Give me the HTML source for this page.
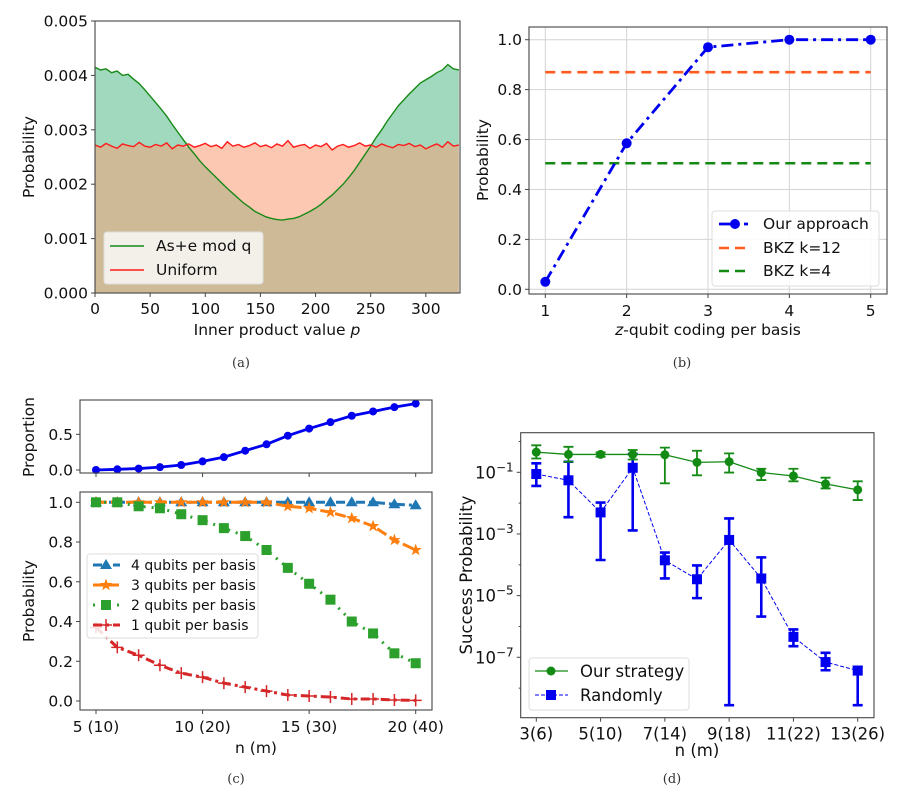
<!DOCTYPE html>
<html><head><meta charset="utf-8"><style>
html,body{margin:0;padding:0;background:#fff;}
svg{display:block;font-family:"DejaVu Sans","Liberation Sans",sans-serif;}
.cap{font-family:"DejaVu Serif","Liberation Serif",serif;font-size:13px;fill:#333;}
</style></head><body>
<svg id="fig" width="906" height="799" viewBox="0 0 906 799" xmlns="http://www.w3.org/2000/svg">
<g id="pa"></g>
<g id="pb"></g>
<g id="pc"></g>
<g id="pd"></g>
<text class="cap" x="241" y="367" text-anchor="middle">(a)</text>
<text class="cap" x="682" y="367" text-anchor="middle">(b)</text>
<text class="cap" x="236" y="783" text-anchor="middle">(c)</text>
<text class="cap" x="672" y="783" text-anchor="middle">(d)</text>
</svg>
<script>
// ---------- Panel (a) data ----------
const aStep = 5;
const aGreen = [.00415,.00410,.00412,.00405,.00408,.00400,.00402,.00393,.00385,.00374,
.00362,.00350,.00338,.00325,.00310,.00296,.00282,.00268,.00256,.00243,
.00232,.00222,.00212,.00202,.00192,.00183,.00174,.00165,.00158,.00150,
.00145,.00140,.00137,.00135,.00134,.00136,.00137,.00140,.00145,.00150,
.00156,.00163,.00172,.00180,.00190,.00200,.00212,.00225,.00240,.00255,
.00270,.00286,.00300,.00316,.00330,.00344,.00355,.00366,.00376,.00386,
.00392,.00398,.00405,.00410,.00420,.00412,.00410];
const aRed = [.00272,.00268,.00275,.00270,.00266,.00274,.00271,.00269,.00277,.00270,
.00268,.00273,.00270,.00276,.00265,.00272,.00270,.00274,.00268,.00271,
.00275,.00269,.00272,.00266,.00278,.00270,.00273,.00268,.00271,.00276,
.00269,.00272,.00267,.00274,.00270,.00280,.00268,.00271,.00273,.00266,
.00272,.00269,.00275,.00263,.00270,.00273,.00268,.00271,.00276,.00270,
.00272,.00268,.00274,.00270,.00267,.00273,.00271,.00275,.00269,.00272,
.00265,.00270,.00274,.00268,.00278,.00270,.00272];
const aXTicks = [0,50,100,150,200,250,300];
const aYTicks = ["0.000","0.001","0.002","0.003","0.004","0.005"];
// ---------- Panel (b) data ----------
const bX = [1,2,3,4,5];
const bOurs = [0.03,0.585,0.97,1.0,1.0];
const bBKZ12 = 0.87;
const bBKZ4 = 0.505;
const bYTicks = ["0.0","0.2","0.4","0.6","0.8","1.0"];
// ---------- Panel (c) data ----------
const cN = [5,6,7,8,9,10,11,12,13,14,15,16,17,18,19,20];
const cXTicks = ["5 (10)","10 (20)","15 (30)","20 (40)"];
const cXTickVals = [5,10,15,20];
const cProp = [0.0,0.01,0.02,0.04,0.07,0.12,0.18,0.27,0.36,0.48,0.58,0.67,0.76,0.82,0.88,0.93];
const cQ4 = [1,1,1,1,1,1,1,1,1,1,1,1,1,1,0.99,0.985];
const cQ3 = [1,1,1,1,1,1,1,1,1,0.98,0.97,0.95,0.92,0.88,0.81,0.76];
const cQ2 = [1,1,0.98,0.97,0.94,0.91,0.87,0.83,0.76,0.67,0.59,0.51,0.40,0.34,0.24,0.19];
const cQ1 = [0.37,0.27,0.23,0.18,0.14,0.12,0.09,0.07,0.05,0.03,0.025,0.02,0.01,0.01,0.005,0.003];
// ---------- Panel (d) data ----------
const dN = [3,4,5,6,7,8,9,10,11,12,13];
const dXTicks = ["3(6)","5(10)","7(14)","9(18)","11(22)","13(26)"];
const dXTickVals = [3,5,7,9,11,13];
const dOurs = [0.45,0.38,0.38,0.38,0.37,0.21,0.22,0.098,0.076,0.042,0.027];
const dOursLo = [0.28,0.22,0.32,0.26,0.044,0.080,0.098,0.056,0.051,0.030,0.0126];
const dOursHi = [0.75,0.67,0.44,0.53,0.63,0.50,0.41,0.13,0.13,0.067,0.051];
const dRand = [0.088,0.055,0.005,0.14,1.4e-4,3.4e-5,6.4e-4,3.6e-5,4.6e-7,7e-8,3.7e-8];
const dRandLo = [0.036,0.0035,1.43e-4,0.0013,3.6e-5,8.3e-6,2.8e-9,2.1e-6,2.3e-7,3.8e-8,2.8e-9];
const dRandHi = [0.196,0.22,0.0104,0.39,2.5e-4,9.5e-5,0.0032,1.74e-4,8e-7,1.4e-7,4.9e-8];
const dYTickExp = [-1,-3,-5,-7];

const FS=15.5;
const NS="http://www.w3.org/2000/svg";
function mk(parent,tag,attrs,text){const e=document.createElementNS(NS,tag);for(const k in attrs)e.setAttribute(k,attrs[k]);if(text!==undefined)e.textContent=text;parent.appendChild(e);return e;}
function lin(d0,d1,r0,r1){return v=>r0+(v-d0)*(r1-r0)/(d1-d0);}
function pathD(xs,ys){return xs.map((x,i)=>(i?'L':'M')+x.toFixed(2)+','+ys[i].toFixed(2)).join('');}
function frame(g,l,t,r,b,name){const e=mk(g,'rect',{x:l,y:t,width:r-l,height:b-t,fill:'none',stroke:'#444','stroke-width':1.1});}
function txt(g,x,y,s,opts,name){const e=mk(g,'text',Object.assign({x:x,y:y,'font-size':FS,fill:'#111'},opts||{}),s);return e;}

// ===== Panel A =====
(function(){
const g=document.getElementById('pa');
const L=95,R=460,T=21,B=293;
const X=lin(0,331,L,R), Y=lin(0,0.005,B,T);
const xs=aGreen.map((v,i)=>X(i*aStep));
const gy=aGreen.map(v=>Y(v)), ry=aRed.map(v=>Y(v));
const mn=aGreen.map((v,i)=>Y(Math.min(v,aRed[i]))), mx=aGreen.map((v,i)=>Y(Math.max(v,aRed[i])));
const rev=a=>a.slice().reverse();
let e=mk(g,'path',{d:pathD(xs,mn)+'L'+xs[xs.length-1]+','+B+'L'+xs[0]+','+B+'Z',fill:'#cfba98'});

e=mk(g,'path',{d:pathD(xs,mx)+pathD(rev(xs),rev(ry)).replace('M','L')+'Z',fill:'#a0d9bd'});

e=mk(g,'path',{d:pathD(xs,ry)+pathD(rev(xs),rev(mn)).replace('M','L')+'Z',fill:'#fdc8b2'});

e=mk(g,'path',{d:pathD(xs,gy),fill:'none',stroke:'#178a17','stroke-width':1.4});

e=mk(g,'path',{d:pathD(xs,ry),fill:'none',stroke:'#ff1a1a','stroke-width':1.4});

frame(g,L,T,R,B,'plot-frame-a');
aXTicks.forEach(v=>{const x=X(v);mk(g,'line',{x1:x,x2:x,y1:B,y2:B+4,stroke:'#444'});txt(g,x,B+21,String(v),{'text-anchor':'middle'},'x-tick-label');});
aYTicks.forEach(s=>{const y=Y(parseFloat(s));mk(g,'line',{x1:L-4,x2:L,y1:y,y2:y,stroke:'#444'});txt(g,L-7,y+5.5,s,{'text-anchor':'end'},'y-tick-label');});
const xl=txt(g,277,335,'Inner product value ',{'text-anchor':'middle'},'x-axis-title');mk(xl,'tspan',{'font-style':'italic'},'p');
txt(g,0,0,'Probability',{'text-anchor':'middle',transform:'translate(34,157) rotate(-90)'},'y-axis-title');
const lg=mk(g,'g',{});
mk(lg,'rect',{x:104,y:232,width:159,height:52,rx:3,fill:'#f3f0ea',stroke:'#ddd'});
mk(lg,'line',{x1:110,x2:144,y1:246,y2:246,stroke:'#178a17','stroke-width':1.5});
txt(lg,156,251,'As+e mod q',{},'legend-entry-lwe');
mk(lg,'line',{x1:110,x2:144,y1:270,y2:270,stroke:'#ff1a1a','stroke-width':1.5});
txt(lg,156,275,'Uniform',{},'legend-entry-uniform');
})();

// ===== Panel B =====
(function(){
const g=document.getElementById('pb');
const L=529,R=887,T=27,B=294;
const X=lin(1,5,545.3,870.7), Y=lin(0,1,289.3,39.7);
bX.forEach(v=>mk(g,'line',{x1:X(v),x2:X(v),y1:T,y2:B,stroke:'#d4d4d4','stroke-width':1}));
bYTicks.forEach(s=>mk(g,'line',{x1:L,x2:R,y1:Y(+s),y2:Y(+s),stroke:'#d4d4d4','stroke-width':1}));
let e=mk(g,'line',{x1:X(1),x2:X(5),y1:Y(bBKZ12),y2:Y(bBKZ12),stroke:'#ff5a1f','stroke-width':2.6,'stroke-dasharray':'10,6'});

e=mk(g,'line',{x1:X(1),x2:X(5),y1:Y(bBKZ4),y2:Y(bBKZ4),stroke:'#138a13','stroke-width':2.6,'stroke-dasharray':'10,6'});

e=mk(g,'path',{d:pathD(bX.map(X),bOurs.map(Y)),fill:'none',stroke:'#0000ee','stroke-width':2.8,'stroke-dasharray':'12,5,3,5'});

bX.forEach((v,i)=>{const c=mk(g,'circle',{cx:X(v),cy:Y(bOurs[i]),r:5,fill:'#0000ee'});});
frame(g,L,T,R,B,'plot-frame-b');
bX.forEach(v=>{const x=X(v);mk(g,'line',{x1:x,x2:x,y1:B,y2:B+4,stroke:'#444'});txt(g,x,B+22,String(v),{'text-anchor':'middle'},'x-tick-label');});
bYTicks.forEach(s=>{const y=Y(+s);mk(g,'line',{x1:L-4,x2:L,y1:y,y2:y,stroke:'#444'});txt(g,L-7,y+5.5,s,{'text-anchor':'end'},'y-tick-label');});
const xl=txt(g,708,335,'',{'text-anchor':'middle'},'x-axis-title');mk(xl,'tspan',{'font-style':'italic'},'z');mk(xl,'tspan',{},'-qubit coding per basis');
txt(g,0,0,'Probability',{'text-anchor':'middle',transform:'translate(488,160) rotate(-90)'},'y-axis-title');
const lg=mk(g,'g',{});
mk(lg,'rect',{x:712,y:211,width:167,height:75,rx:3,fill:'#fff','fill-opacity':0.85,stroke:'#ddd'});
mk(lg,'line',{x1:719,x2:748,y1:224,y2:224,stroke:'#0000ee','stroke-width':2.8,'stroke-dasharray':'12,5,3,5'});
mk(lg,'circle',{cx:735,cy:224,r:5,fill:'#0000ee'});
txt(lg,763,229,'Our approach',{},'legend-entry-ours');
mk(lg,'line',{x1:719,x2:748,y1:248,y2:248,stroke:'#ff5a1f','stroke-width':2.6,'stroke-dasharray':'10,6'});
txt(lg,763,253,'BKZ k=12',{},'legend-entry-bkz12');
mk(lg,'line',{x1:719,x2:748,y1:271,y2:271,stroke:'#138a13','stroke-width':2.6,'stroke-dasharray':'10,6'});
txt(lg,763,276,'BKZ k=4',{},'legend-entry-bkz4');
})();

// ===== Panel C =====
function marker(g,type,x,y,color){
  let e;
  if(type==='tri') e=mk(g,'path',{d:`M${x},${y-6}L${x+6},${y+4}L${x-6},${y+4}Z`,fill:color});
  else if(type==='star'){let p='';for(let k=0;k<10;k++){const a=-Math.PI/2+k*Math.PI/5,r=k%2?2.6:6.5;p+=(k?'L':'M')+(x+r*Math.cos(a)).toFixed(2)+','+(y+r*Math.sin(a)).toFixed(2);}e=mk(g,'path',{d:p+'Z',fill:color});}
  else if(type==='sq') e=mk(g,'rect',{x:x-5,y:y-5,width:10,height:10,fill:color});
  else if(type==='plus') e=mk(g,'path',{d:`M${x-6},${y}L${x+6},${y}M${x},${y-6}L${x},${y+6}`,stroke:color,'stroke-width':1.5});
  else if(type==='dot') e=mk(g,'circle',{cx:x,cy:y,r:4,fill:color});
  else if(type==='circ') e=mk(g,'circle',{cx:x,cy:y,r:4.5,fill:color});
  return e;
}
(function(){
const g=document.getElementById('pc');
const L=80,R=432;
const X=lin(5,20,96,415.7);
const T1=400,B1=473,Y1=lin(0,0.5,470,434.3);
let e=mk(g,'path',{d:pathD(cN.map(X),cProp.map(Y1)),fill:'none',stroke:'#0000ee','stroke-width':2.8});

cN.forEach((n,i)=>{const m=marker(g,'dot',X(n),Y1(cProp[i]),'#0000ee');});
frame(g,L,T1,R,B1,'plot-frame-c-top');
["0.0","0.5"].forEach(s=>{const y=Y1(+s);mk(g,'line',{x1:L-4,x2:L,y1:y,y2:y,stroke:'#444'});txt(g,L-7,y+5.5,s,{'text-anchor':'end'},'y-tick-label');});
cXTickVals.forEach(v=>mk(g,'line',{x1:X(v),x2:X(v),y1:B1,y2:B1+4,stroke:'#444'}));
txt(g,0,0,'Proportion',{'text-anchor':'middle',transform:'translate(34,437) rotate(-90)'},'top-y-axis-title');
const T2=492,B2=710,Y2=lin(0,1,701,502.3);
const series=[[cQ4,'#1f77b4','9,4,3,4','tri','series-4-qubits'],[cQ3,'#ff7f0e','11,4','star','series-3-qubits'],[cQ2,'#2ca02c','2,6','sq','series-2-qubits'],[cQ1,'#d62728','9,4,3,4','plus','series-1-qubit']];
series.forEach(s=>{
  const sg=mk(g,'g',{});
  mk(sg,'path',{d:pathD(cN.map(X),s[0].map(Y2)),fill:'none',stroke:s[1],'stroke-width':3,'stroke-dasharray':s[2]});
  cN.forEach((n,i)=>{const m=marker(sg,s[3],X(n),Y2(s[0][i]),s[1]);});
});
frame(g,L,T2,R,B2,'plot-frame-c-bottom');
["0.0","0.2","0.4","0.6","0.8","1.0"].forEach(s=>{const y=Y2(+s);mk(g,'line',{x1:L-4,x2:L,y1:y,y2:y,stroke:'#444'});txt(g,L-7,y+5.5,s,{'text-anchor':'end'},'y-tick-label');});
cXTickVals.forEach((v,i)=>{const x=X(v);mk(g,'line',{x1:x,x2:x,y1:B2,y2:B2+4,stroke:'#444'});txt(g,x,B2+22,cXTicks[i],{'text-anchor':'middle'},'x-tick-label');});
txt(g,256,753,'n (m)',{'text-anchor':'middle'},'x-axis-title');
txt(g,0,0,'Probability',{'text-anchor':'middle',transform:'translate(34,601) rotate(-90)'},'y-axis-title');
const lg=mk(g,'g',{});
mk(lg,'rect',{x:87,y:554,width:171,height:84,rx:3,fill:'#fff','fill-opacity':0.85,stroke:'#ddd'});
const labels=['4 qubits per basis','3 qubits per basis','2 qubits per basis','1 qubit per basis'];
series.forEach((s,i)=>{const y=565+i*20;mk(lg,'line',{x1:93,x2:120,y1:y,y2:y,stroke:s[1],'stroke-width':3,'stroke-dasharray':s[2]});marker(lg,s[3],106,y,s[1]);txt(lg,131,y+5,labels[i],{'font-size':14},'legend-entry');});
})();

// ===== Panel D =====
(function(){
const g=document.getElementById('pd');
const L=520.7,R=874,T=432.7,B=717.7;
const X=lin(3,13,536.3,857.7);
const LY=lin(-1,-7,472.3,657.3);
const Y=v=>LY(Math.log10(v));
function series(vals,lo,hi,color,shape,dash,lw,name){
  const sg=mk(g,'g',{});
  const p=mk(sg,'path',{d:pathD(dN.map(X),vals.map(Y)),fill:'none',stroke:color,'stroke-width':lw});
  if(dash)p.setAttribute('stroke-dasharray',dash);
  dN.forEach((n,i)=>{const x=X(n);
    const eb=mk(sg,'path',{d:`M${x},${Y(lo[i])}L${x},${Y(hi[i])}M${x-5},${Y(lo[i])}L${x+5},${Y(lo[i])}M${x-5},${Y(hi[i])}L${x+5},${Y(hi[i])}`,stroke:color,'stroke-width':shape==='sq'?2.6:1.8,fill:'none'});
    
    const m=marker(sg,shape,x,Y(vals[i]),color);});
}
series(dRand,dRandLo,dRandHi,'#0000ee','sq','4,2',1,'series-randomly');
series(dOurs,dOursLo,dOursHi,'#138a13','circ',null,1.3,'series-our-strategy');
frame(g,L,T,R,B,'plot-frame-d');
for(let k=-9;k<=0;k++){const y=LY(k);if(y<T||y>B)continue;mk(g,'line',{x1:L-(dYTickExp.includes(k)?4:2),x2:L,y1:y,y2:y,stroke:'#444'});}
dYTickExp.forEach(k=>{const y=LY(k);const t=txt(g,L-7,y+6,'10',{'text-anchor':'end','font-size':16.5},'y-tick-label');mk(t,'tspan',{dy:-7,'font-size':12},'\u2212'+Math.abs(k));});
dXTickVals.forEach((v,i)=>{const x=X(v);mk(g,'line',{x1:x,x2:x,y1:B,y2:B+4,stroke:'#444'});txt(g,x,B+22,dXTicks[i],{'text-anchor':'middle','font-size':16.5},'x-tick-label');});
txt(g,697,756,'n (m)',{'text-anchor':'middle','font-size':16.5},'x-axis-title');
txt(g,0,0,'Success Probability',{'text-anchor':'middle','font-size':16.5,transform:'translate(472,575) rotate(-90)'},'y-axis-title');
const lg=mk(g,'g',{});
mk(lg,'rect',{x:529,y:658,width:160,height:52,rx:3,fill:'#fff','fill-opacity':0.85,stroke:'#ddd'});
mk(lg,'line',{x1:535,x2:568,y1:671,y2:671,stroke:'#138a13','stroke-width':1.3});marker(lg,'circ',551,671,'#138a13');
txt(lg,580,677,'Our strategy',{'font-size':16.5},'legend-entry-ours');
mk(lg,'line',{x1:535,x2:568,y1:695,y2:695,stroke:'#0000ee','stroke-width':1,'stroke-dasharray':'4,2'});marker(lg,'sq',551,695,'#0000ee');
txt(lg,580,701,'Randomly',{'font-size':16.5},'legend-entry-randomly');
})();
</script>
</body></html>
